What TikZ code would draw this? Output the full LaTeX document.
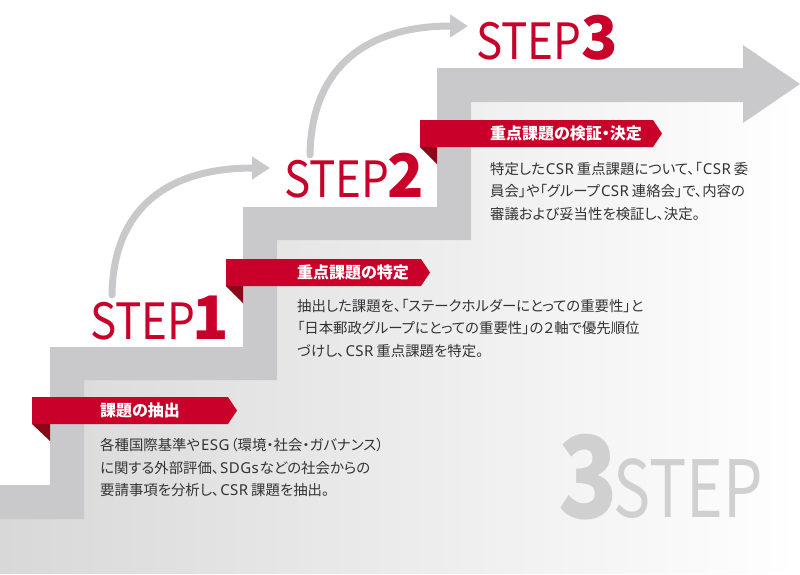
\documentclass[tikz,border=0pt]{standalone}
\usepackage{fontspec}
\setmainfont[RawFeature=+palt]{Noto Sans CJK JP}
\newfontfamily\latf[LetterSpace=3]{Noto Sans}
\newcommand{\lt}[1]{\hspace{1pt}{\latf\fontsize{15}{22.5}\selectfont #1}\hspace{1pt}}
\usetikzlibrary{arrows.meta}
\definecolor{jpred}{RGB}{200,0,42}
\definecolor{jpdark}{RGB}{138,8,24}
\definecolor{bandgray}{RGB}{201,201,203}
\definecolor{lightfill}{RGB}{216,216,217}
\definecolor{bodytext}{RGB}{51,51,51}
\definecolor{bigtext}{RGB}{208,208,208}
\tikzset{
  ribbon/.style={fill=jpred},
  fold/.style={fill=jpdark},
  lbltext/.style={text=white, font=\bfseries\fontsize{16}{16}\selectfont, inner sep=0pt, anchor=west},
  bodytxt/.style={text=bodytext, font=\fontsize{14.4}{22.5}\selectfont, align=left, inner sep=0pt, anchor=west},
  stepword/.style={text=jpred, font=\fontsize{50}{50}\selectfont, inner sep=0pt, anchor=base west},
  stepnum/.style={text=jpred, font=\bfseries\fontsize{60}{60}\selectfont, inner sep=0pt, anchor=base west},
  bignum/.style={text=bigtext, font=\bfseries\fontsize{114}{114}\selectfont, inner sep=0pt, anchor=base west},
  bigword/.style={text=bigtext, font=\fontsize{79}{79}\selectfont, inner sep=0pt, anchor=base west},
  curvearrow/.style={draw=bandgray, line width=7pt, line cap=round, -{Triangle[length=18pt,width=22pt]}},
}
\begin{document}
\begin{tikzpicture}[x=1pt,y=-1pt]
\useasboundingbox (0,0) rectangle (800,574);
\fill[white] (0,0) rectangle (800,574);
% light area below the stairs
\shade[left color=lightfill, right color=white]
  (0,519) -- (84,519) -- (84,380) -- (277,380) -- (277,240) -- (471,240) -- (471,102)
  -- (800,102) -- (800,574) -- (0,574) -- cycle;
% stair band with arrow head
\fill[bandgray]
  (0,485) -- (50,485) -- (50,347) -- (243,347) -- (243,207) -- (437,207) -- (437,68)
  -- (743,68) -- (743,45) -- (800,84) -- (743,123) -- (743,102)
  -- (471,102) -- (471,240) -- (277,240) -- (277,380) -- (84,380) -- (84,519) -- (0,519) -- cycle;
% big 3STEP
\node[bignum] (big3) at (558,518) {\scalebox{0.86}[1]{3}};
\node[bigword] (bigstep) at (613,517) {\scalebox{0.79}[1]{STEP}};
% ribbons
\fill[fold] (32,424) -- (50,424) -- (50,441) -- cycle;
\fill[ribbon] (32,397) -- (228,397) -- (237,410.5) -- (228,424) -- (32,424) -- cycle;
\fill[fold] (226,286) -- (243,286) -- (243,303) -- cycle;
\fill[ribbon] (226,259) -- (421,259) -- (430,272.5) -- (421,286) -- (226,286) -- cycle;
\fill[fold] (420,147) -- (437,147) -- (437,164) -- cycle;
\fill[ribbon] (420,120) -- (653,120) -- (662,133.5) -- (653,147) -- (420,147) -- cycle;
% ribbon labels
\node[lbltext] (l1) at (100,410.5) {課題の抽出};
\node[lbltext] (l2) at (297,272.5) {重点課題の特定};
\node[lbltext] (l3) at (490,133.5) {重点課題の検証・決定};
% body texts
\node[bodytxt] (b1) at (100,467.5) {各種国際基準や\lt{ESG}（環境・社会・ガバナンス）\\に関する外部評価、\lt{SDGs}などの社会からの\\要請事項を分析し、\lt{CSR}\hspace{2pt}課題を抽出。};
\node[bodytxt] (b2) at (297,328.5) {抽出した課題を、「ステークホルダーにとっての重要性」と\\「日本郵政グループにとっての重要性」の２軸で優先順位\\づけし、\lt{CSR}\hspace{2pt}重点課題を特定。};
\node[bodytxt] (b3) at (490,191.5) {特定した\lt{CSR}\hspace{2pt}重点課題について、「\lt{CSR}\hspace{2pt}委\\員会」や「グループ\lt{CSR}\hspace{2pt}連絡会」で、内容の\\審議および妥当性を検証し、決定。};
% STEP labels
\node[stepword] (s1) at (90,339) {\scalebox{0.88}[1]{STEP}};
\node[stepnum] (n1) at ([xshift=-3pt]s1.base east) {1};
\node[stepword] (s2) at (284,197) {\scalebox{0.88}[1]{STEP}};
\node[stepnum] (n2) at ([xshift=-2pt]s2.base east) {2};
\node[stepword] (s3) at (476,59) {\scalebox{0.88}[1]{STEP}};
\node[stepnum] (n3) at ([xshift=0pt]s3.base east) {3};
% curved arrows
\coordinate (a1s) at (112,295);
\coordinate (a1e) at (270,168);
\coordinate (a2s) at (310,155);
\coordinate (a2e) at (468,26);
\draw[curvearrow] (a1s) .. controls (113,215) and (160,168) .. (a1e);
\draw[curvearrow] (a2s) .. controls (311,75) and (358,26) .. (a2e);
\end{tikzpicture}
\end{document}
